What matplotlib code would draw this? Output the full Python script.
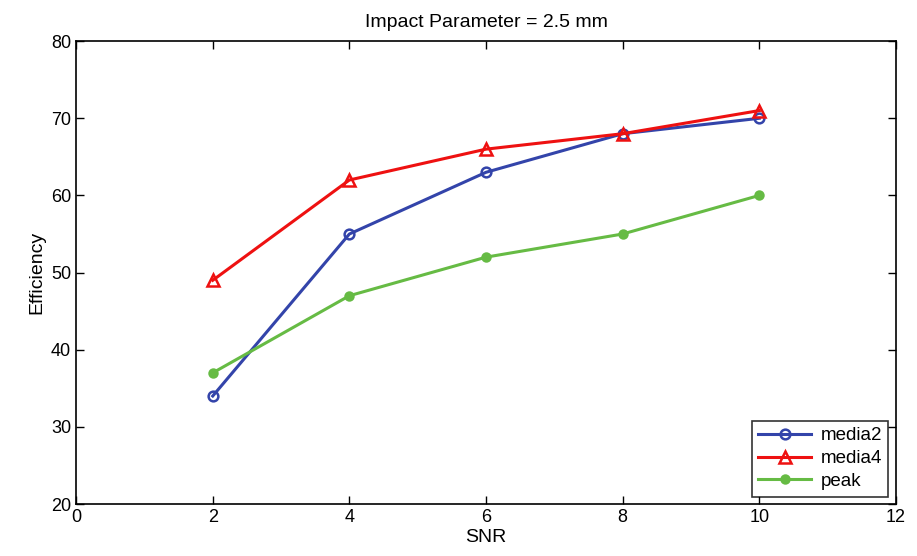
import matplotlib
matplotlib.use("Agg")
import matplotlib.pyplot as plt

plt.rcParams['font.family'] = ['Liberation Sans Narrow', 'Liberation Sans', 'DejaVu Sans']

snr = [2, 4, 6, 8, 10]
media2 = [34, 55, 63, 68, 70]
media4 = [49, 62, 66, 68, 71]
peak = [37, 47, 52, 55, 60]

fig = plt.figure(figsize=(9.17, 5.56), dpi=100)
ax = fig.add_axes([0.083, 0.0935, 0.894, 0.8325])

ax.plot(snr, media2, color='#3344aa', lw=2.2, marker='o', ms=7, mfc='none', mew=1.8, label='media2')
ax.plot(snr, media4, color='#ee1111', lw=2.2, marker='^', ms=8, mfc='none', mew=1.8, label='media4')
ax.plot(snr, peak, color='#66bb44', lw=2.2, marker='o', ms=6, mfc='#66bb44', mew=1.5, label='peak')

ax.set_xlim(0, 12)
ax.set_ylim(20, 80)
ax.set_xticks(range(0, 13, 2))
ax.set_yticks(range(20, 81, 10))
ax.tick_params(direction='in', top=True, right=True, labelsize=13, length=6, width=1)
for s in ax.spines.values():
    s.set_linewidth(1.2)

ax.set_xlabel('SNR', fontsize=14, labelpad=2)
ax.set_ylabel('Efficiency', fontsize=14, labelpad=4)
ax.set_title('Impact Parameter = 2.5 mm', fontsize=14, pad=10)

leg = ax.legend(loc='lower right', fontsize=13.5, frameon=True, fancybox=False,
                edgecolor='black', borderaxespad=0.4, handlelength=2.8, labelspacing=0.3,
                borderpad=0.35, handletextpad=0.5)
leg.get_frame().set_linewidth(1.2)

fig.savefig('out.png', dpi=100)
